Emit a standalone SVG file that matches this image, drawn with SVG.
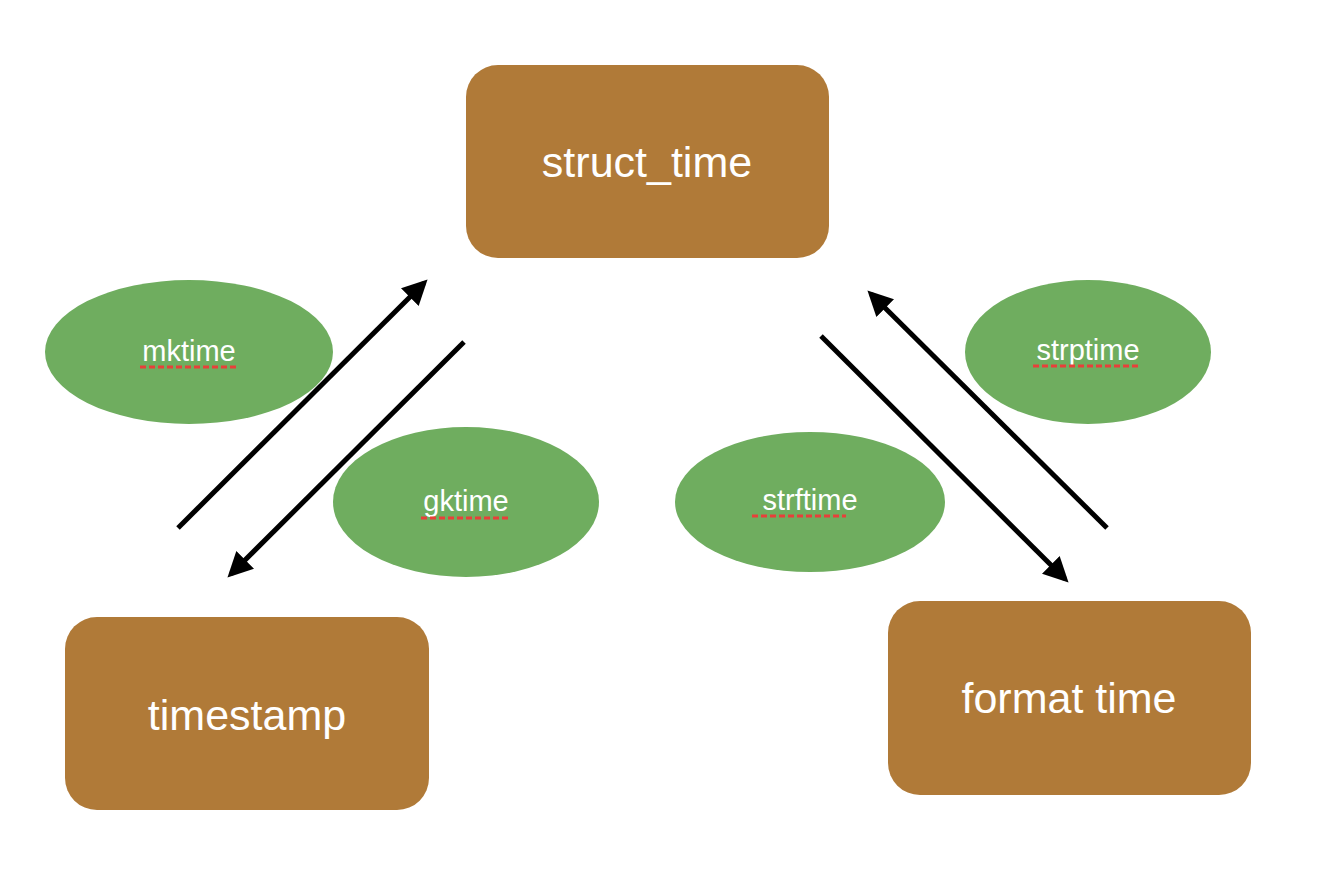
<svg xmlns="http://www.w3.org/2000/svg" width="1322" height="874" viewBox="0 0 1322 874">
<style>
.box{fill:#B07A38;}
.oval{fill:#6FAD5F;}
.bt{font-family:"Liberation Sans",Arial,sans-serif;font-size:43px;fill:#fff;text-anchor:middle;}
.ot{font-family:"Liberation Sans",Arial,sans-serif;font-size:29px;fill:#fff;text-anchor:middle;}
.sq{stroke:#E8403A;stroke-width:3;stroke-dasharray:6,3;fill:none;}
.conn{stroke:#000;stroke-width:5;fill:none;marker-end:url(#ah);}
</style>
<defs>
<marker id="ah" markerWidth="5" markerHeight="5" refX="4" refY="2.5" orient="auto" markerUnits="strokeWidth">
<path d="M0,0 L5,2.5 L0,5 Z" fill="#000"/>
</marker>
</defs>
<rect width="1322" height="874" fill="#fff"/>
<g id="struct_time">
<rect class="box" x="466" y="65" width="363" height="193" rx="32"/>
<text class="bt" x="647" y="177">struct_time</text>
</g>
<g id="timestamp">
<rect class="box" x="65" y="617" width="364" height="193" rx="32"/>
<text class="bt" x="247" y="730">timestamp</text>
</g>
<g id="format_time">
<rect class="box" x="888" y="601" width="363" height="194" rx="32"/>
<text class="bt" x="1069" y="713">format time</text>
</g>
<g id="mktime">
<ellipse class="oval" cx="189" cy="352" rx="144" ry="72"/>
<text class="ot" x="189" y="361">mktime</text>
<line class="sq" x1="140" y1="367" x2="237" y2="367"/>
</g>
<g id="gktime">
<ellipse class="oval" cx="466" cy="502" rx="133" ry="75"/>
<text class="ot" x="466" y="511">gktime</text>
<line class="sq" x1="421" y1="518" x2="510" y2="518"/>
</g>
<g id="strftime">
<ellipse class="oval" cx="810" cy="502" rx="135" ry="70"/>
<text class="ot" x="810" y="510">strftime</text>
<line class="sq" x1="752" y1="516" x2="846" y2="516"/>
</g>
<g id="strptime">
<ellipse class="oval" cx="1088" cy="352" rx="123" ry="72"/>
<text class="ot" x="1088" y="360">strptime</text>
<line class="sq" x1="1033" y1="366" x2="1140" y2="366"/>
</g>
<g id="connectors">
<line class="conn" x1="178" y1="528" x2="424" y2="283"/>
<line class="conn" x1="464" y1="342" x2="231" y2="574"/>
<line class="conn" x1="821" y1="336" x2="1065" y2="579"/>
<line class="conn" x1="1107" y1="528" x2="871" y2="294"/>
</g>
</svg>
